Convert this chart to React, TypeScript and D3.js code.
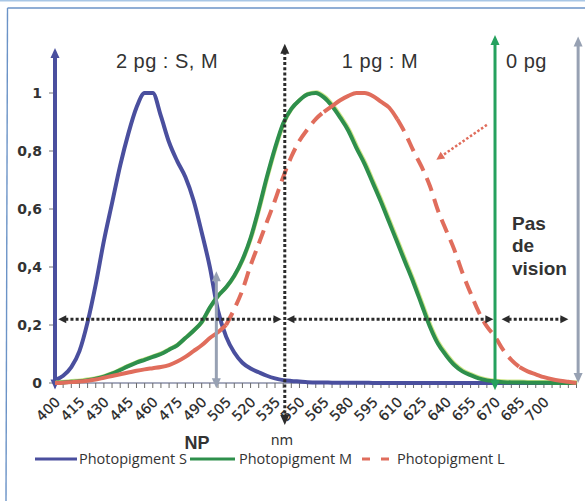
import React from 'react';
import * as d3 from 'd3';

// Wavelength categories (nm), sampled every 5 nm
const WAVELENGTHS = [
  400, 405, 410, 415, 420, 425, 430, 435, 440, 445,
  450, 455, 460, 465, 470, 475, 480, 485, 490, 495,
  500, 505, 510, 515, 520, 525, 530, 535, 540, 545,
  550, 555, 560, 565, 570, 575, 580, 585, 590, 595,
  600, 605, 610, 615, 620, 625, 630, 635, 640, 645,
  650, 655, 660, 665, 670, 675, 680, 685, 690, 695,
  700, 705, 710, 715, 720,
];

// Relative sensitivity of the short-wave pigment
const PHOTOPIGMENT_S = [
  0.01, 0.025, 0.055, 0.11, 0.21, 0.34, 0.49, 0.62, 0.75, 0.86,
  0.95, 1.0, 1.0, 0.92, 0.83, 0.765, 0.71, 0.63, 0.52, 0.40,
  0.25, 0.16, 0.105, 0.07, 0.05, 0.037, 0.025, 0.016, 0.01, 0.007,
  0.005, 0.003, 0.002, 0.002, 0.001, 0.001, 0.001, 0.001, 0.001, 0,
  0, 0, 0, 0, 0, 0, 0, 0, 0, 0,
  0, 0, 0, 0, 0, 0, 0, 0, 0, 0,
  0, 0, 0, 0, 0,
];

// Relative sensitivity of the medium-wave pigment
const PHOTOPIGMENT_M = [
  0, 0.002, 0.004, 0.006, 0.01, 0.015, 0.022, 0.032, 0.045, 0.058,
  0.07, 0.08, 0.09, 0.10, 0.115, 0.13, 0.155, 0.18, 0.21, 0.26,
  0.30, 0.33, 0.37, 0.425, 0.50, 0.60, 0.71, 0.81, 0.895, 0.945,
  0.975, 0.995, 1.0, 0.985, 0.955, 0.915, 0.87, 0.81, 0.755, 0.69,
  0.625, 0.555, 0.485, 0.415, 0.345, 0.27, 0.195, 0.135, 0.095, 0.062,
  0.04, 0.027, 0.016, 0.009, 0.005, 0.003, 0.002, 0.002, 0.001, 0.001,
  0.001, 0, 0, 0, 0,
];

// Relative sensitivity of the long-wave pigment
const PHOTOPIGMENT_L = [
  0, 0.001, 0.003, 0.005, 0.008, 0.012, 0.018, 0.024, 0.03, 0.036,
  0.042, 0.047, 0.051, 0.055, 0.062, 0.074, 0.09, 0.11, 0.13, 0.155,
  0.175, 0.20, 0.255, 0.32, 0.405, 0.48, 0.555, 0.63, 0.71, 0.78,
  0.835, 0.875, 0.91, 0.935, 0.955, 0.975, 0.99, 1.0, 1.0, 0.99,
  0.97, 0.95, 0.91, 0.86, 0.80, 0.745, 0.68, 0.595, 0.527, 0.46,
  0.38, 0.31, 0.245, 0.195, 0.16, 0.114, 0.08, 0.055, 0.04, 0.03,
  0.02, 0.013, 0.008, 0.004, 0,
];

const X_TICK_LABELS = [
  400, 415, 430, 445, 460, 475, 490, 505, 520, 535,
  550, 565, 580, 595, 610, 625, 640, 655, 670, 685, 700,
];
const Y_TICKS = [0, 0.2, 0.4, 0.6, 0.8, 1];

// Annotation anchors (nm / sensitivity)
const NEUTRAL_POINT_NM = 499;
const ONE_PIGMENT_START_NM = 541;
const NO_PIGMENT_START_NM = 670;
const VISIBLE_END_NM = 721;
const RANGE_LEVEL = 0.22;

// Portions of the L curve drawn solid; the rest is dashed
const L_SOLID_SPANS = [[400, 505], [565, 610], [685, 720]];
const L_DASHED_SPANS = [[505, 565], [610, 685]];

const COLOR_S = '#4a4f9e';
const COLOR_M = '#2e8f4c';
const COLOR_L = '#e06d5c';
const COLOR_GREEN_ARROW = '#25a15e';
const COLOR_GRAY_ARROW = '#97a1b3';
const COLOR_TEXT = '#333333';
const COLOR_DOT = '#2b2b2b';

const x = d3.scaleLinear().domain([400, 720]).range([55, 576.5]);
const y = d3.scaleLinear().domain([0, 1]).range([383, 93]);

type Pt = { wl: number; v: number };
const series = (vals: number[]): Pt[] => WAVELENGTHS.map((wl, i) => ({ wl, v: vals[i] }));

const line = d3
  .line<Pt>()
  .x((d) => x(d.wl))
  .y((d) => y(d.v))
  .curve(d3.curveMonotoneX);

const span = (pts: Pt[], lo: number, hi: number) => pts.filter((p) => p.wl >= lo && p.wl <= hi);

// Triangle whose tip sits at (tx, ty), pointing along `angle`
function head(tx: number, ty: number, angle: number, len = 10, half = 4.5) {
  const ux = Math.cos(angle);
  const uy = Math.sin(angle);
  const bx = tx - ux * len;
  const by = ty - uy * len;
  const px = -uy;
  const py = ux;
  return `${tx},${ty} ${bx + px * half},${by + py * half} ${bx - px * half},${by - py * half}`;
}

const UP = -Math.PI / 2;
const DOWN = Math.PI / 2;
const LEFT = Math.PI;
const RIGHT = 0;

// Vertical double-headed arrow at pixel column cx, spanning two sensitivity levels
function VArrow({ cx, top, bottom, color, width, headTop = true, headBottom = true, dash }: any) {
  const y1 = y(top);
  const y2 = y(bottom);
  return (
    <g>
      <line x1={cx} x2={cx} y1={y1 + (headTop ? 8 : 0)} y2={y2 - (headBottom ? 8 : 0)} stroke={color} strokeWidth={width} strokeDasharray={dash} />
      {headTop && <polygon points={head(cx, y1, UP, 10, 4.5)} fill={color} />}
      {headBottom && <polygon points={head(cx, y2, DOWN, 10, 4.5)} fill={color} />}
    </g>
  );
}

function HDotted({ from, to }: { from: number; to: number }) {
  const yy = y(RANGE_LEVEL);
  const x1 = x(from);
  const x2 = x(to);
  return (
    <g>
      <line x1={x1 + 7} x2={x2 - 7} y1={yy} y2={yy} stroke={COLOR_DOT} strokeWidth={3} strokeDasharray="3,2.2" />
      <polygon points={head(x1, yy, LEFT, 8, 4)} fill={COLOR_DOT} />
      <polygon points={head(x2, yy, RIGHT, 8, 4)} fill={COLOR_DOT} />
    </g>
  );
}

export default function App() {
  const s = series(PHOTOPIGMENT_S);
  const m = series(PHOTOPIGMENT_M);
  const l = series(PHOTOPIGMENT_L);
  const y0 = y(0);

  // Pointer from the annotation toward the L curve
  const p1 = { x: x(665), y: y(0.89) };
  const p2 = { x: x(634), y: y(0.77) };
  const pAngle = Math.atan2(p2.y - p1.y, p2.x - p1.x);

  return (
    <svg
      width={585}
      height={501}
      viewBox="0 0 585 501"
      style={{ position: 'absolute', left: 0, top: 0, background: '#ffffff' }}
    >
      {/* frame */}
      <line x1={0} x2={585} y1={0.8} y2={0.8} stroke="#a9c7e6" strokeWidth={1.6} />
      <line x1={7.5} x2={585} y1={8} y2={8} stroke="#6b93c7" strokeWidth={1.4} />
      <line x1={7.5} x2={6} y1={8} y2={501} stroke="#6b93c7" strokeWidth={1.4} />

      {/* x axis */}
      <line x1={x(400)} x2={x(720)} y1={y0} y2={y0} stroke="#8a8fa8" strokeWidth={1.5} />
      {WAVELENGTHS.map((wl) => (
        <line key={wl} x1={x(wl)} x2={x(wl)} y1={y0} y2={y0 + 5} stroke="#6b6b6b" strokeWidth={1} />
      ))}
      {X_TICK_LABELS.map((wl) => (
        <text
          key={wl}
          transform={`translate(${x(wl) + 6},${y0 + 20}) rotate(-45)`}
          textAnchor="end"
          fontFamily="'DejaVu Sans', sans-serif"
          fontSize={14}
          fill="#262626"
          stroke="#262626"
          strokeWidth={0.25}
        >
          {wl}
        </text>
      ))}

      {/* y axis */}
      {Y_TICKS.map((t) => (
        <g key={t}>
          <line x1={49} x2={55} y1={y(t)} y2={y(t)} stroke="#777" strokeWidth={1} />
          <text
            x={42}
            y={y(t)}
            dy="0.36em"
            textAnchor="end"
            fontFamily="'DejaVu Sans', sans-serif"
            fontWeight="bold"
            fontSize={14}
            fill={COLOR_TEXT}
          >
            {String(t).replace('.', ',')}
          </text>
        </g>
      ))}
      <VArrow cx={x(400)} top={1.155} bottom={-0.022} color={COLOR_S} width={4} />

      {/* pigment curves */}
      <path d={line(s) || ''} fill="none" stroke={COLOR_S} strokeWidth={4} strokeLinejoin="round" />
      <path d={line(m) || ''} fill="none" stroke="#b9dc55" strokeWidth={4} transform="translate(0.8,-0.8)" opacity={0.7} />
      <path d={line(m) || ''} fill="none" stroke={COLOR_M} strokeWidth={4} strokeLinejoin="round" />
      {L_SOLID_SPANS.map(([lo, hi]) => (
        <path key={`s${lo}`} d={line(span(l, lo, hi)) || ''} fill="none" stroke={COLOR_L} strokeWidth={4} strokeLinejoin="round" />
      ))}
      {L_DASHED_SPANS.map(([lo, hi]) => (
        <path key={`d${lo}`} d={line(span(l, lo, hi)) || ''} fill="none" stroke={COLOR_L} strokeWidth={4} strokeDasharray="14,8" />
      ))}

      {/* range boundaries */}
      <VArrow cx={x(ONE_PIGMENT_START_NM)} top={1.17} bottom={-0.145} color={COLOR_DOT} width={3} dash="3,2.2" />
      <VArrow cx={x(NO_PIGMENT_START_NM)} top={1.2} bottom={-0.025} color={COLOR_GREEN_ARROW} width={3} />
      <VArrow cx={x(VISIBLE_END_NM)} top={1.195} bottom={0} color={COLOR_GRAY_ARROW} width={3} />
      <VArrow cx={x(NEUTRAL_POINT_NM)} top={0.385} bottom={-0.018} color={COLOR_GRAY_ARROW} width={3} />

      <HDotted from={402} to={539} />
      <HDotted from={542} to={669} />
      <HDotted from={674} to={715} />

      {/* pointer to the L curve */}
      <line
        x1={p1.x}
        y1={p1.y}
        x2={p2.x - Math.cos(pAngle) * 7}
        y2={p2.y - Math.sin(pAngle) * 7}
        stroke={COLOR_L}
        strokeWidth={2.5}
        strokeDasharray="2.5,2"
      />
      <polygon points={head(p2.x, p2.y, pAngle, 8, 4)} fill={COLOR_L} />

      {/* region labels */}
      <g fontFamily="'Liberation Sans', Arial, sans-serif" fontSize={20} letterSpacing={0.5} fill={COLOR_TEXT}>
        <text x={167} y={68} textAnchor="middle">2 pg : S, M</text>
        <text x={380} y={68} textAnchor="middle">1 pg : M</text>
        <text x={506} y={68}>0 pg</text>
      </g>
      <g fontFamily="'Liberation Sans', Arial, sans-serif" fontSize={19} fontWeight="bold" fill={COLOR_TEXT}>
        <text x={512} y={230}>Pas</text>
        <text x={512} y={252}>de</text>
        <text x={512} y={275}>vision</text>
      </g>
      <text x={197} y={449} textAnchor="middle" fontFamily="'Liberation Sans', Arial, sans-serif" fontSize={18} fontWeight="bold" fill={COLOR_TEXT}>
        NP
      </text>
      <text x={282} y={445} textAnchor="middle" fontFamily="'DejaVu Sans', sans-serif" fontSize={14} fill={COLOR_TEXT}>
        nm
      </text>

      {/* legend */}
      <g fontFamily="'Open Sans', sans-serif" fontSize={14.5} fill={COLOR_TEXT}>
        <line x1={35} x2={77} y1={459} y2={459} stroke={COLOR_S} strokeWidth={3} />
        <text x={79} y={464}>Photopigment S</text>
        <line x1={190} x2={235} y1={459} y2={459} stroke={COLOR_M} strokeWidth={3} />
        <text x={239} y={464}>Photopigment M</text>
        <line x1={362} x2={391} y1={459} y2={459} stroke={COLOR_L} strokeWidth={3} strokeDasharray="8,11" />
        <text x={397} y={464}>Photopigment L</text>
      </g>
    </svg>
  );
}
